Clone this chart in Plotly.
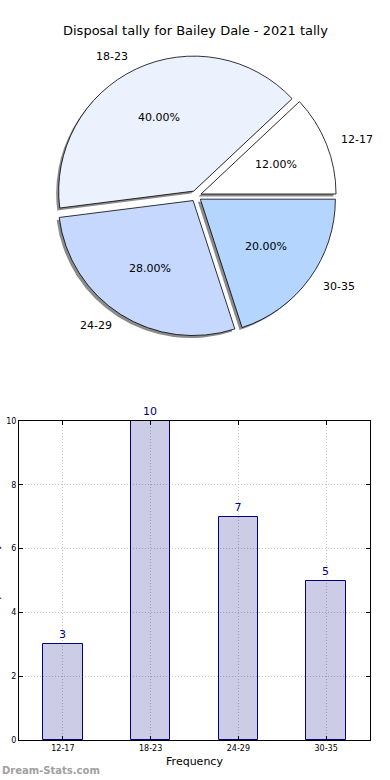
import math
import plotly.graph_objects as go

# ---- data ----
categories = ["12-17", "18-23", "24-29", "30-35"]
counts = [3, 10, 7, 5]
pie_colors = ["#ffffff", "#ebf2fe", "#c6d8fe", "#b3d5fe"]
title_text = "Disposal tally for Bailey Dale - 2021 tally"
x_title = "Frequency"
y_title = "Disposal tally"
y_ticks = [0, 2, 4, 6, 8, 10]

# ---- layout geometry (page pixels) ----
W, H = 390, 780
PL, PR, PT, PB = 19, 370, 421, 740   # bar plot area on the page
ML = PL
MR = W - PR
MT = 0
MB = H - PB
PW, PH = W - ML - MR, H - MT - MB
FONT = "DejaVu Sans"

def px2x(px):
    return (px - ML) / PW

def py2y(py):
    return 1 - (py - MT) / PH

PULL = 0.04
R = 135
CX, CY = 196, 196
half = R * (1 + PULL)
dom_x = [px2x(CX - half), px2x(CX + half)]
dom_y = [py2y(CY + half), py2y(CY - half)]
sh = 2.5
dom_xs = [px2x(CX - half - sh), px2x(CX + half - sh)]
dom_ys = [py2y(CY + half + sh), py2y(CY - half + sh)]

total = sum(counts)
rot = 90 - 360 * counts[0] / total

fig = go.Figure()

# shadow pie
fig.add_trace(go.Pie(
    labels=categories, values=counts, sort=False, direction="counterclockwise",
    rotation=rot, pull=[PULL] * len(counts), textinfo="none", hoverinfo="skip",
    marker=dict(colors=["rgba(110,110,110,0.8)"] * len(counts), line=dict(width=0)),
    domain=dict(x=dom_xs, y=dom_ys), showlegend=False,
))
# main pie
fig.add_trace(go.Pie(
    labels=categories, values=counts, sort=False, direction="counterclockwise",
    rotation=rot, pull=[PULL] * len(counts), textinfo="none",
    marker=dict(colors=pie_colors, line=dict(color="black", width=0.8)),
    domain=dict(x=dom_x, y=dom_y), showlegend=False,
))

# pie text annotations (from data angles)
annotations = []
start = 0.0
for cat, v in zip(categories, counts):
    frac = v / total
    mid = math.radians((start + frac / 2) * 360)
    start += frac
    c, s = math.cos(mid), math.sin(mid)
    dpct = (0.6 + PULL) * R
    annotations.append(dict(
        x=px2x(CX + dpct * c), y=py2y(CY - dpct * s), xref="paper", yref="paper",
        text=f"{frac*100:.2f}%", showarrow=False,
        font=dict(family=FONT, size=11, color="black"),
        xanchor="center", yanchor="middle"))
    dl = (1.1 + PULL) * R
    annotations.append(dict(
        x=px2x(CX + dl * c), y=py2y(CY - dl * s), xref="paper", yref="paper",
        text=cat, showarrow=False, font=dict(family=FONT, size=11, color="black"),
        xanchor="left" if c > 0 else "right", yanchor="middle"))

# bar chart
fig.add_trace(go.Bar(
    x=list(range(len(categories))), y=counts, width=0.45,
    marker=dict(color="rgba(0,0,128,0.2)", line=dict(color="#000080", width=1)),
    text=[str(v) for v in counts], textposition="outside",
    textfont=dict(family=FONT, size=11, color="#000080"),
    cliponaxis=False, showlegend=False,
))

bar_top = py2y(PT)
grid = dict(showgrid=True, gridcolor="#c4c4c4", griddash="1px,2px", gridwidth=1)
fig.update_layout(
    width=W, height=H, margin=dict(l=ML, r=MR, t=MT, b=MB, autoexpand=False),
    paper_bgcolor="white", plot_bgcolor="white",
    font=dict(family=FONT, color="black"),
    xaxis=dict(domain=[0, 1], range=[-0.5, 3.5], tickvals=list(range(len(categories))),
               ticktext=categories, tickfont=dict(size=8), showline=True, linecolor="black",
               linewidth=1, mirror="ticks", ticks="inside", ticklen=4, tickcolor="black",
               zeroline=False, automargin=False,
               title=dict(text=x_title, font=dict(size=11), standoff=5), **grid),
    yaxis=dict(domain=[0, bar_top], range=[0, 10], tickvals=y_ticks, tickfont=dict(size=8),
               showline=True, linecolor="black", linewidth=1, mirror="ticks", ticks="inside",
               ticklen=4, tickcolor="black", zeroline=False, automargin=False, **grid),
    bargap=0,
)

annotations.append(dict(x=px2x(195), y=py2y(30), xref="paper", yref="paper", text=title_text,
                        showarrow=False, font=dict(family=FONT, size=13, color="black"),
                        xanchor="center", yanchor="middle"))
annotations.append(dict(x=px2x(-5), y=py2y(580), xref="paper", yref="paper", text=y_title,
                        textangle=-90, showarrow=False, font=dict(family=FONT, size=11),
                        xanchor="center", yanchor="middle"))
annotations.append(dict(x=px2x(0), y=py2y(770), xref="paper", yref="paper",
                        text="<b>Dream-Stats.com</b>", showarrow=False,
                        font=dict(family=FONT, size=10, color="#a0a0a0"),
                        xanchor="left", yanchor="middle"))
fig.update_layout(annotations=annotations)

fig.write_html("out.html", config={"displayModeBar": False},
               post_script="document.body.style.margin='0';")
